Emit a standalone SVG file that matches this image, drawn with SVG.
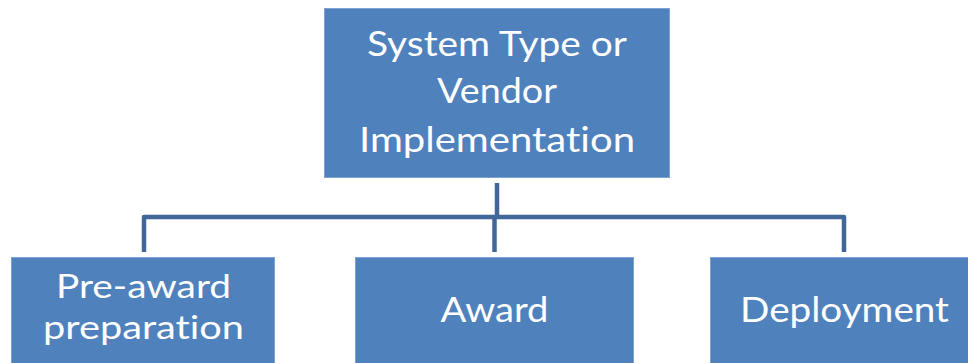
<svg xmlns="http://www.w3.org/2000/svg" width="968" height="363" viewBox="0 0 968 363">
  <style>
    .box { fill: #4f81bd; stroke: #7fa3d1; stroke-width: 1; }
    .label { fill: #ffffff; font-family: Lato, "Open Sans", "Liberation Sans", sans-serif; font-size: 34px; text-anchor: middle; font-variant-ligatures: none; }
    .tight { font-size: 33px; }
    .link { fill: none; stroke: #41679a; stroke-width: 4.5; stroke-linejoin: round; }
  </style>
  <rect width="968" height="363" fill="#ffffff"/>

  <!-- tree connectors -->
  <g id="connectors">
    <path class="link" d="M497 183 V217"/>
    <path class="link" d="M144 252 V217 H844 V252"/>
    <path class="link" d="M494.5 217 V252"/>
  </g>

  <g id="node-root">
    <rect class="box" x="324.5" y="8.5" width="345" height="169"/>
    <text class="label" x="497" y="56" textLength="260" lengthAdjust="spacingAndGlyphs">System Type or</text>
    <text class="label" x="497" y="103" textLength="120" lengthAdjust="spacingAndGlyphs">Vendor</text>
    <text class="label" x="497" y="152" textLength="276" lengthAdjust="spacingAndGlyphs">Implementation</text>
  </g>

  <g id="node-preaward">
    <rect class="box" x="11.5" y="257.5" width="263" height="110"/>
    <text class="label tight" x="143.5" y="298" textLength="175" lengthAdjust="spacingAndGlyphs">Pre-award</text>
    <text class="label tight" x="143.5" y="339" textLength="201" lengthAdjust="spacingAndGlyphs">preparation</text>
  </g>

  <g id="node-award">
    <rect class="box" x="355.5" y="257.5" width="278" height="110"/>
    <text class="label" x="494.5" y="322" textLength="108" lengthAdjust="spacingAndGlyphs">Award</text>
  </g>

  <g id="node-deployment">
    <rect class="box" x="710.5" y="257.5" width="268" height="110"/>
    <text class="label" x="844.5" y="322" textLength="209" lengthAdjust="spacingAndGlyphs">Deployment</text>
  </g>
</svg>
